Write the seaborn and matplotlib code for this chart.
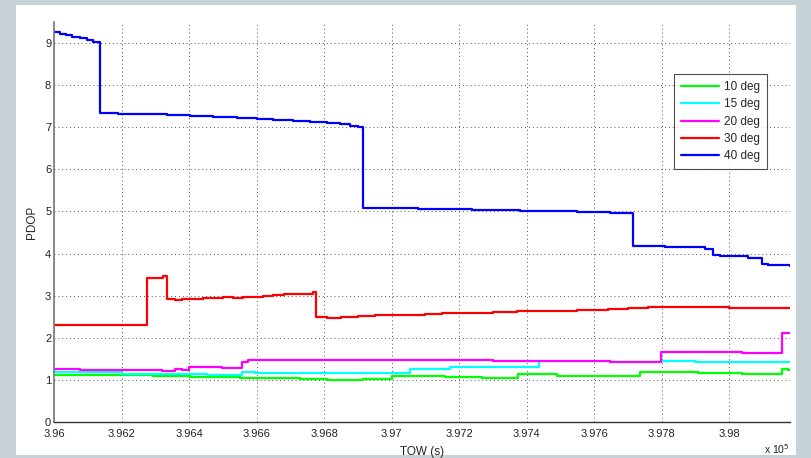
import matplotlib
matplotlib.use("Agg")
import matplotlib.pyplot as plt
import seaborn as sns
import pandas as pd
from matplotlib.patches import Rectangle
from matplotlib.lines import Line2D

# ---------------- data ----------------
labels = ["10 deg", "15 deg", "20 deg", "30 deg", "40 deg"]
colors = ["#00ff00", "#00ffff", "#ff00ff", "#ff0000", "#0000ff"]

t_10 = [396000, 396292, 396402, 396550, 396728, 396808, 396915, 397001, 397158,
        397268, 397374, 397490, 397735, 397759, 397907, 398037, 398156, 398174, 398180]
v_10 = [1.12, 1.09, 1.06, 1.04, 1.01, 1.00, 1.02, 1.09, 1.07,
        1.05, 1.13, 1.10, 1.19, 1.18, 1.16, 1.15, 1.25, 1.23, 1.23]

t_15 = [396000, 396201, 396298, 396452, 396556, 396595, 397054, 397173, 397276,
        397436, 397647, 397797, 397900, 398000, 398180]
v_15 = [1.18, 1.15, 1.13, 1.11, 1.19, 1.17, 1.25, 1.31, 1.30,
        1.46, 1.43, 1.44, 1.43, 1.42, 1.42]

t_20 = [396000, 396076, 396319, 396358, 396378, 396399, 396497, 396556, 396574,
        397300, 397647, 397797, 398037, 398156, 398180]
v_20 = [1.25, 1.23, 1.21, 1.25, 1.23, 1.31, 1.29, 1.42, 1.47,
        1.46, 1.42, 1.66, 1.65, 2.12, 2.12]

t_30 = [396000, 396274, 396303, 396322, 396336, 396358, 396380, 396410, 396440,
        396470, 396500, 396530, 396560, 396590, 396620, 396650, 396680, 396710,
        396740, 396767, 396775, 396810, 396850, 396900, 396950, 397000, 397050,
        397100, 397150, 397200, 397250, 397300, 397370, 397450, 397550, 397640,
        397700, 397760, 397900, 398000, 398180]
v_30 = [2.30, 3.43, 3.41, 3.47, 2.91, 2.89, 2.92, 2.93, 2.94,
        2.95, 2.96, 2.95, 2.97, 2.98, 3.00, 3.01, 3.03, 3.04,
        3.05, 3.08, 2.49, 2.48, 2.50, 2.51, 2.53, 2.54, 2.55,
        2.57, 2.58, 2.59, 2.60, 2.61, 2.63, 2.64, 2.67, 2.68,
        2.70, 2.73, 2.73, 2.71, 2.71]

t_40 = [396000, 396017, 396035, 396052, 396076, 396097, 396115, 396135, 396189,
        396254, 396334, 396402, 396470, 396541, 396601, 396648, 396707, 396757,
        396808, 396846, 396876, 396900, 396915, 396966, 397078, 397167, 397238,
        397330, 397380, 397448, 397478, 397549, 397597, 397647, 397715, 397735,
        397809, 397928, 397952, 397973, 398008, 398056, 398096, 398115, 398180]
v_40 = [9.27, 9.22, 9.19, 9.15, 9.12, 9.07, 9.02, 7.33, 7.32,
        7.31, 7.28, 7.27, 7.25, 7.22, 7.20, 7.17, 7.15, 7.12,
        7.10, 7.07, 7.03, 7.00, 5.09, 5.08, 5.06, 5.05, 5.04,
        5.03, 5.02, 5.01, 5.00, 4.99, 4.98, 4.97, 4.19, 4.17,
        4.15, 4.12, 3.97, 3.95, 3.94, 3.90, 3.75, 3.72, 3.71]

x_ticks = [396000, 396200, 396400, 396600, 396800, 397000, 397200, 397400,
           397600, 397800, 398000]
x_ticklabels = ["3.96", "3.962", "3.964", "3.966", "3.968", "3.97", "3.972",
                "3.974", "3.976", "3.978", "3.98"]
y_ticks = [0, 1, 2, 3, 4, 5, 6, 7, 8, 9]

series_t = [t_10, t_15, t_20, t_30, t_40]
series_v = [v_10, v_15, v_20, v_30, v_40]

frames = []
for lab, t, v in zip(labels, series_t, series_v):
    frames.append(pd.DataFrame({"TOW": t, "PDOP": v, "mask": lab}))
df = pd.concat(frames, ignore_index=True)

# ---------------- figure ----------------
sns.set_style("white")
plt.rcParams["font.family"] = ["Liberation Sans", "DejaVu Sans"]

W, H = 811, 458
fig = plt.figure(figsize=(W / 100, H / 100), dpi=100, facecolor="#c6d1d8")
panel = Rectangle((16 / W, 3 / H), 780 / W, 450 / H,
                  transform=fig.transFigure, facecolor="white",
                  edgecolor="none", zorder=-10)
fig.add_artist(panel)

ax = fig.add_axes([54 / W, (H - 422) / H, (790 - 54) / W, (422 - 22) / H])
ax.set_zorder(1)
ax.set_facecolor("white")

sns.lineplot(data=df, x="TOW", y="PDOP", hue="mask", hue_order=labels,
             palette=colors, estimator=None, sort=True, drawstyle="steps-post",
             linewidth=1.6, ax=ax, legend=False)

ax.set_xlim(396000, 398180)
ax.set_ylim(0, 9.5)
ax.set_xticks(x_ticks)
ax.set_xticklabels(x_ticklabels)
ax.set_yticks(y_ticks)
ax.tick_params(axis="both", direction="in", length=4, width=0.8,
               labelsize=8, colors="#222222")
ax.tick_params(axis="x", pad=5)
ax.tick_params(axis="y", pad=2)

ax.grid(True, linestyle=(0, (1, 3)), color="#555555", linewidth=0.7)
for s in ["top", "right"]:
    ax.spines[s].set_visible(False)
ax.spines["left"].set_color("#777777")
ax.spines["left"].set_linewidth(1.2)
ax.spines["bottom"].set_color("#333333")
ax.spines["bottom"].set_linewidth(1.0)

ax.set_xlabel("TOW (s)", fontsize=8.5, labelpad=5)
ax.set_ylabel("PDOP", fontsize=8.5, labelpad=5)

handles = [Line2D([0], [0], color=c, linewidth=1.6) for c in colors]
leg = ax.legend(handles, labels, loc="upper left",
                bbox_to_anchor=((674 - 54) / (790 - 54), 1 - (74 - 22) / (422 - 22)),
                fontsize=8.5, frameon=True, fancybox=False, handlelength=3.2,
                handletextpad=0.4, labelspacing=0.45, borderpad=0.6,
                borderaxespad=0)
leg.get_frame().set_edgecolor("#222222")
leg.get_frame().set_linewidth(0.8)

fig.text(764 / W, (H - 454) / H, "x 10$^{5}$", fontsize=7.5, color="#222222",
         va="baseline")

fig.savefig("out.png", dpi=100, facecolor=fig.get_facecolor())
